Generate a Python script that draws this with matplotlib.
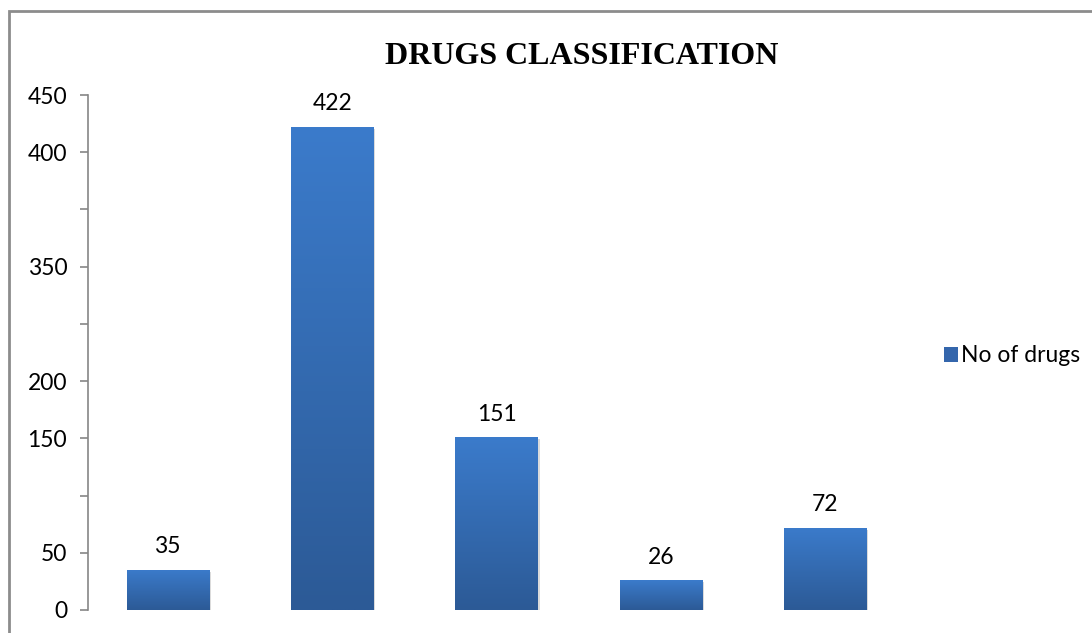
import matplotlib
matplotlib.use("Agg")
import matplotlib.pyplot as plt
import numpy as np
from matplotlib.colors import LinearSegmentedColormap
from matplotlib.patches import Rectangle
import matplotlib.patheffects as pe

# Data
categories = ["A", "B", "C", "D", "E"]
values = [35, 422, 151, 26, 72]
series_name = "No of drugs"
title = "DRUGS CLASSIFICATION"
tick_positions = [0, 50, 100, 150, 200, 250, 300, 350, 400, 450]
tick_labels = ["0", "50", "", "150", "200", "", "350", "", "400", "450"]

FONT = "Lato"
FS = 16.5

fig = plt.figure(figsize=(10.92, 6.33), dpi=100)
ax = fig.add_axes([88/1092, 1-610/633, (905-88)/1092, (610-95)/633])

x = np.arange(len(categories))
bars = ax.bar(x, values, width=0.50, color="#3466ac", zorder=2,
              path_effects=[pe.SimplePatchShadow(offset=(1.5, -1.5), shadow_rgbFace="#b0b0b0", alpha=0.45), pe.Normal()])

cmap = LinearSegmentedColormap.from_list("g", ["#2c5a96", "#3b7bcb"])
grad = np.linspace(0, 1, 256).reshape(-1, 1)
for b in bars:
    x0, y0 = b.get_x(), b.get_y()
    w, h = b.get_width(), b.get_height()
    im = ax.imshow(grad, cmap=cmap, origin="lower", aspect="auto",
                   extent=[x0, x0 + w, y0, y0 + h], zorder=3)
    im.set_clip_path(b)

for xi, v in zip(x, values):
    ax.text(xi, v + 11, str(v), ha="center", va="bottom", fontsize=FS,
            family=FONT, color="black")

ax.set_xlim(-0.485, len(categories) - 0.515)
ax.set_ylim(0, 450)
ax.set_yticks(tick_positions)
ax.set_yticklabels(tick_labels, fontsize=FS, family=FONT)
ax.set_xticks([])
for s in ["top", "right", "bottom"]:
    ax.spines[s].set_visible(False)
ax.spines["left"].set_color("#868686")
ax.spines["left"].set_linewidth(1.2)
ax.tick_params(axis="y", length=6, width=1.2, color="#868686", pad=9)

fig.text(582/1092, 1-56/633, title, ha="center", va="center", fontsize=23,
         fontweight="bold", family="Liberation Serif")

# Legend
handle = Rectangle((0, 0), 1, 1, facecolor="#3466ac")
fig.legend([handle], [series_name], loc="center left",
           bbox_to_anchor=(944/1092, 1-356/633), frameon=False,
           prop={"family": FONT, "size": FS}, handlelength=0.6,
           handleheight=0.6, handletextpad=0.15, borderpad=0,
           borderaxespad=0)

# Outer border
fig.add_artist(Rectangle((9/1092, -0.1), 1.2, 1-11/633 + 0.1, transform=fig.transFigure,
                         fill=False, edgecolor="#8c8c8c", linewidth=2))

fig.savefig("out.png", dpi=100)
